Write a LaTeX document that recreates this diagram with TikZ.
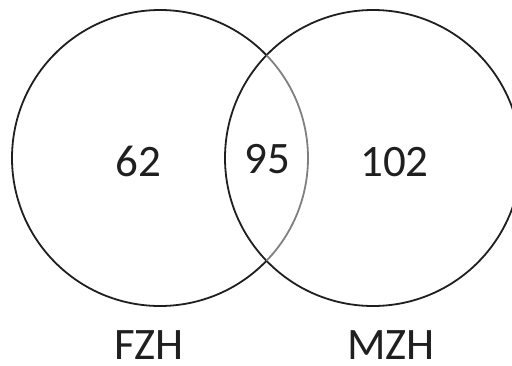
\documentclass[tikz,border=0pt]{standalone}
\usepackage{fontspec}
\setmainfont{Carlito}
\begin{document}
\begin{tikzpicture}[x=1pt,y=-1pt,
  lbl/.style={anchor=base,inner sep=0pt,font=\fontsize{45}{50}\selectfont,text=black!88},
  ring/.style={line width=1.8pt,draw=black!88},
  inner/.style={line width=1.8pt,draw=black!50}]
\useasboundingbox (0,0) rectangle (512,365);
\coordinate (cl) at (160,158);
\coordinate (cr) at (373,158);
\begin{scope}
\clip (0,0) rectangle (512,365);
% right circle
\draw[ring] (cr) circle[radius=148];
% left circle: outer part black, part inside right circle gray
\draw[ring] ([shift={(44:148)}]cl) arc[start angle=44,end angle=316,radius=148];
\draw[inner] ([shift={(-44:148)}]cl) arc[start angle=-44,end angle=44,radius=148];
\end{scope}
\node[lbl] (a) at (138.5,176) {62};
\node[lbl] (ab) at (267,173) {95};
\node[lbl] (b) at (394.5,176) {102};
\node[lbl] (la) at (149,359) {FZH};
\node[lbl] (lb) at (391,359) {MZH};
\end{tikzpicture}
\end{document}
